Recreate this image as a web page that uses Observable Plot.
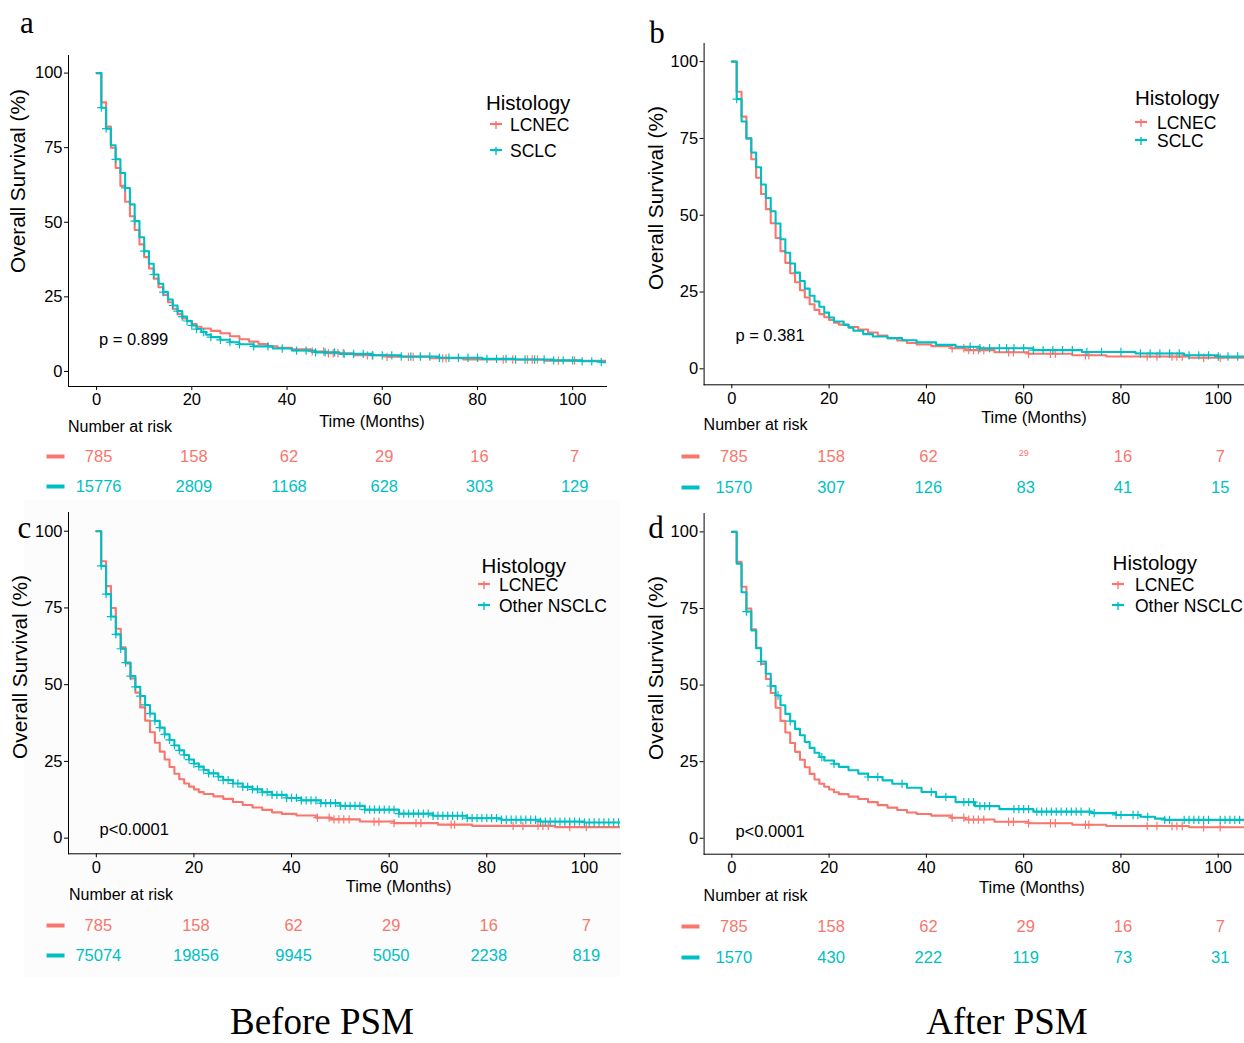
<!DOCTYPE html>
<html>
<head>
<meta charset="utf-8">
<script src="https://cdn.jsdelivr.net/npm/d3@7"></script>
<script src="https://cdn.jsdelivr.net/npm/@observablehq/plot@0.6"></script>
<style>
  html, body { margin: 0; padding: 0; background: #fff; }
  #fig { position: relative; width: 1244px; height: 1043px; overflow: hidden;
         font-family: "Liberation Sans", Arial, Helvetica, sans-serif; color: #000; }
  .abs { position: absolute; white-space: nowrap; line-height: 1; }
  .serif { font-family: "Liberation Serif", "Times New Roman", serif; }
  svg.plot { position: absolute; overflow: visible; }
</style>
</head>
<body>
<div id="fig"></div>
<script>
// ---------------- data ----------------
const groupLCNEC = "LCNEC";

// Kaplan–Meier estimates (months, % surviving)
const lcnecMonths = [0,1,2,3,4,5,6,7,8,9,10,11,12,13,14,15,16,17,18,19,20,21,22,24,26,28,30,32,34,36,38,41,45,48,54,61,70,77,94,108];
const lcnecSurv   = [100,90.2,82.1,75.0,68.2,62.2,56.9,52.0,47.4,42.6,38.3,34.5,31.1,28.2,25.6,23.2,21.0,19.2,17.8,16.8,15.9,15.0,14.4,13.6,12.8,11.8,10.8,10.0,9.2,8.4,7.9,7.4,6.7,6.1,5.4,4.9,4.4,4.0,3.6,3.6];
const lcnecCensor = [45.3,47.7,48.7,49.7,50.7,51.8,56.9,57.9,61,65.5,66.5,72.7,73.4,85.4,87.4,90.5,91.5,92.6,97,100.4];

const sclcBeforeMonths = [0,1,2,3,4,5,6,7,8,9,10,11,12,13,14,15,16,17,18,19,20,21,22,23,24,26,28,30,33,37,41,46,51,58,64,72,81,88,96,102,106,108];
const sclcBeforeSurv   = [100,88.4,81.4,75.8,71.1,66.5,61.5,56.0,50.4,45.0,40.3,36.1,32.5,29.4,26.6,24.1,22.1,20.2,18.4,16.9,15.4,14.2,13.2,12.3,11.5,10.6,9.8,9.1,8.4,7.7,7.0,6.4,5.9,5.4,5.0,4.6,4.2,4.0,3.7,3.4,3.1,3.1];
const sclcBeforeCensor = [1,2,4,6,8,10,12,14,16,17,18,19,20,21,22.5,24,26,28,30,33,36,39,42,44,46,48,50,52,54,56,58,60,62,64,66,68,70,72,74,76,78,80,82,84,86,88,90,92,94,96,98,100,102,104,106];

const sclcAfterMonths = [0,1,2,3,4,5,6,7,8,9,10,11,12,13,14,15,16,17,18,19,20,21,23,24,25,27,29,32,35,38,42,46,51,62,72,83,93,100,108];
const sclcAfterSurv   = [100,87.8,80.5,75.0,70.4,65.6,60.0,55.6,51.3,47.3,42.2,37.8,34.3,31.3,28.6,26.1,23.8,21.9,20.2,18.3,16.7,15.4,14.3,13.4,12.4,11.3,10.5,10.0,9.3,8.6,7.8,7.2,6.7,6.1,5.5,5.0,4.4,4.0,3.7];
const sclcAfterCensor = [1,49,51,53,55,56.5,58,60,62,64,66,68,70,73,76,80,84,86,88,90,92,94,96,98,100,102,104];

const nsclcBeforeMonths = [0,1,2,3,4,5,6,7,8,9,10,11,12,13,14,15,16,17,18,19,20,21,22,23,25,26,28,30,32,34,36,39,42,46,50,55,62,69,76,83,91,100,108];
const nsclcBeforeSurv   = [100,88.7,79.5,72.2,66.4,61.7,57.2,52.8,49.3,46.3,43.4,40.6,38.2,36.0,33.8,32.0,30.2,28.6,27.1,25.6,24.3,23.3,22.2,21.1,20.0,18.9,17.8,16.7,15.9,15.0,14.1,13.1,12.3,11.4,10.5,9.3,8.0,7.3,6.5,6.0,5.4,5.1,4.8];
const nsclcBeforeCensor = [1,2,3,4,5,6,7,8,9,10,11,12,13,14,15,16,17,18,19,20,21,22,23,24,25,26,27,28,29,30,31,32,33,34,35,36,37,38,39,40,41,42,43,44,45,46,47,48,49,50,51,52,53,54,55,56,57,58,59,60,61,62,63,64,65,66,67,68,69,70,71,72,73,74,75,76,77,78,79,80,81,82,83,84,85,86,87,88,89,90,91,92,93,94,95,96,97,98,99,100,101,102,103,104,105,106,107];

const nsclcAfterMonths = [0,1,2,3,4,5,6,7,8,9,10,11,12,13,14,15,16,17,18,19,21,22,24,26,28,31,33,36,39,42,46,50,55,62,74,79,84,87,89,108];
const nsclcAfterSurv   = [100,89.6,80.3,74.0,67.8,62.0,57.7,53.7,49.7,46.6,43.4,40.6,38.2,35.7,33.6,31.4,29.5,27.9,26.5,25.4,24.3,23.3,22.2,21.1,20.0,18.9,17.8,16.5,15.1,13.5,11.8,10.5,9.5,8.7,8.2,7.6,7.0,6.4,6.0,6.0];
const nsclcAfterCensor = [3,6,8,9.5,12,18.5,21,28,30,35,41,44,47.7,48.7,49.7,51,52,53,58,59,60,61,62.7,63.7,64.7,65.7,66.7,67.7,68.8,69.8,70.8,71.8,73.5,74.5,79,80,82.5,83.5,85.5,89,90,93,94,95,96,97,98,100.4,101.4,102.4,103.4,104.4];

// Number at risk
const riskMonths        = [0, 20, 40, 60, 80, 100];
const riskLCNEC         = [785, 158, 62, 29, 16, 7];
const riskSCLCBefore    = [15776, 2809, 1168, 628, 303, 129];
const riskSCLCAfter     = [1570, 307, 126, 83, 41, 15];
const riskNSCLCBefore   = [75074, 19856, 9945, 5050, 2238, 819];
const riskNSCLCAfter    = [1570, 430, 222, 119, 73, 31];

const xTicks = [0, 20, 40, 60, 80, 100];
const yTicks = [0, 25, 50, 75, 100];

// ---------------- drawing ----------------
const RED = "#F8766D", TEAL = "#00BFC4";
const FONT = '"Liberation Sans", Arial, Helvetica, sans-serif';
const fig = document.getElementById("fig");

function label(text, x, y, {size = 16.5, anchor = "start", rotate = false, color = "#000", serif = false, lh = 1} = {}) {
  const d = document.createElement("div");
  d.className = "abs" + (serif ? " serif" : "");
  d.textContent = text;
  d.style.left = x + "px";
  d.style.top = y + "px";
  d.style.fontSize = size + "px";
  d.style.lineHeight = lh;
  d.style.color = color;
  const tx = anchor === "middle" ? "-50%" : anchor === "end" ? "-100%" : "0";
  d.style.transform = `translate(${tx},-50%)` + (rotate ? " rotate(-90deg)" : "");
  fig.appendChild(d);
}

function place(svg, left, top) {
  svg.style.left = left + "px";
  svg.style.top = top + "px";
  fig.appendChild(svg);
}

function curveRows(group, months, surv) {
  return months.map((t, i) => ({group, t, s: surv[i]}));
}
function stepValue(months, surv, t) {
  let v = surv[0];
  for (let i = 0; i < months.length; i++) if (months[i] <= t) v = surv[i];
  return v;
}
function censorRows(group, months, surv, times) {
  return times.map(t => ({group, t, s: stepValue(months, surv, t)}));
}

// horizontal bar used as the colour key of each risk-table row
const barSymbol = {
  draw(ctx) { ctx.moveTo(-9, -2); ctx.lineTo(9, -2); ctx.lineTo(9, 2); ctx.lineTo(-9, 2); ctx.closePath(); }
};

function legendKey(x, y, color) {
  const ns = "http://www.w3.org/2000/svg";
  const s = document.createElementNS(ns, "svg");
  s.setAttribute("width", 16); s.setAttribute("height", 12);
  s.style.position = "absolute";
  s.style.left = (x - 8) + "px"; s.style.top = (y - 6) + "px";
  const h = document.createElementNS(ns, "line");
  h.setAttribute("x1", 2); h.setAttribute("x2", 14); h.setAttribute("y1", 4); h.setAttribute("y2", 4);
  h.setAttribute("stroke", color); h.setAttribute("stroke-width", 2.2);
  const v = document.createElementNS(ns, "line");
  v.setAttribute("x1", 8); v.setAttribute("x2", 8); v.setAttribute("y1", 1); v.setAttribute("y2", 9);
  v.setAttribute("stroke", color); v.setAttribute("stroke-width", 1.4);
  s.appendChild(h); s.appendChild(v);
  fig.appendChild(s);
}

const panels = [
  { letter: "a", other: "SCLC", months: sclcBeforeMonths, surv: sclcBeforeSurv, censor: sclcBeforeCensor,
    risk: riskSCLCBefore, p: "p = 0.899",
    svgLeft: 0, frame: {l: 68, t: 55, r: 606, b: 386}, xDomain: [-5.9, 107.1], yDomain: [-5.05, 105.9],
    pAt: [99, 339], yTitle: [18, 181], xTitle: [372, 421], riskTitle: [68, 427], rows: [456, 486], dash: 55,
    legend: {title: [486, 103], keyX: 496, textX: 510, rows: [126, 152]}, letterAt: [27, 22], smallCells: [] },
  { letter: "b", other: "SCLC", months: sclcAfterMonths, surv: sclcAfterSurv, censor: sclcAfterCensor,
    risk: riskSCLCAfter, p: "p = 0.381",
    svgLeft: 622, frame: {l: 703.6, t: 42.7, r: 1244, b: 384}, xDomain: [-5.7, 105.4], yDomain: [-5.2, 105.9],
    pAt: [735.4, 335], yTitle: [656, 198], xTitle: [1034, 417], riskTitle: [703.6, 425], rows: [456, 487], dash: 690,
    legend: {title: [1135, 98], keyX: 1141, textX: 1157, rows: [124, 142]}, letterAt: [657, 32], smallCells: [3] },
  { letter: "c", other: "Other NSCLC", months: nsclcBeforeMonths, surv: nsclcBeforeSurv, censor: nsclcBeforeCensor,
    risk: riskNSCLCBefore, p: "p<0.0001",
    svgLeft: 0, frame: {l: 68, t: 511.7, r: 620, b: 853}, xDomain: [-5.7, 107.4], yDomain: [-5.1, 106.1],
    pAt: [99.6, 829], yTitle: [19.8, 667], xTitle: [398.6, 885.7], riskTitle: [69, 895], rows: [925, 955.7], dash: 55,
    legend: {title: [481.6, 565.7], keyX: 484, textX: 499, rows: [586, 606.7]}, letterAt: [24.5, 527], smallCells: [] },
  { letter: "d", other: "Other NSCLC", months: nsclcAfterMonths, surv: nsclcAfterSurv, censor: nsclcAfterCensor,
    risk: riskNSCLCAfter, p: "p<0.0001",
    svgLeft: 622, frame: {l: 703.6, t: 513.3, r: 1244, b: 854}, xDomain: [-5.7, 105.4], yDomain: [-5.2, 106],
    pAt: [735.4, 830.7], yTitle: [655.8, 668], xTitle: [1031.9, 886.7], riskTitle: [703.6, 895.7], rows: [925.7, 956.7], dash: 690,
    legend: {title: [1112.6, 562.7], keyX: 1118, textX: 1135, rows: [586, 606.7]}, letterAt: [656, 527], smallCells: [] }
];

// faint panel background behind figure c
const bg = document.createElement("div");
Object.assign(bg.style, {position: "absolute", left: "24px", top: "500px", width: "596px", height: "477px", background: "#fcfcfc"});
fig.appendChild(bg);

for (const P of panels) {
  const groups = [groupLCNEC, P.other];
  const color = {domain: groups, range: [RED, TEAL]};
  const f = P.frame;
  const mTop = 10, mBottom = 32;

  const lines = [
    ...curveRows(groupLCNEC, lcnecMonths, lcnecSurv),
    ...curveRows(P.other, P.months, P.surv)
  ];
  const marks = [
    ...censorRows(groupLCNEC, lcnecMonths, lcnecSurv, lcnecCensor),
    ...censorRows(P.other, P.months, P.surv, P.censor)
  ];

  const km = Plot.plot({
    width: 620,
    height: (f.b - f.t) + mTop + mBottom,
    marginLeft: f.l - P.svgLeft,
    marginRight: 620 - (f.r - P.svgLeft),
    marginTop: mTop,
    marginBottom: mBottom,
    style: {fontFamily: FONT, fontSize: "16.5px", color: "#000", background: "transparent", overflow: "visible"},
    x: {domain: P.xDomain, ticks: xTicks, tickSize: 4, tickPadding: 3, line: true, label: null},
    y: {domain: P.yDomain, ticks: yTicks, tickSize: 4, tickPadding: 2, line: true, label: null},
    color,
    marks: [
      Plot.line(lines.filter(d => d.group === groupLCNEC), {x: "t", y: "s", stroke: "group", strokeWidth: 2.1, curve: "step-after", clip: true}),
      Plot.dot(marks.filter(d => d.group === groupLCNEC), {x: "t", y: "s", stroke: "group", symbol: "plus", r: 2.8, strokeWidth: 1.2, clip: true}),
      Plot.line(lines.filter(d => d.group === P.other), {x: "t", y: "s", stroke: "group", strokeWidth: 2.1, curve: "step-after", clip: true}),
      Plot.dot(marks.filter(d => d.group === P.other), {x: "t", y: "s", stroke: "group", symbol: "plus", r: 2.8, strokeWidth: 1.2, clip: true})
    ]
  });
  km.classList.add("plot");
  place(km, P.svgLeft, f.t - mTop);

  // risk table
  const riskRows = [];
  riskMonths.forEach((m, i) => {
    riskRows.push({group: groupLCNEC, month: m, n: riskLCNEC[i], small: P.smallCells.includes(i)});
    riskRows.push({group: P.other, month: m, n: P.risk[i], small: false});
  });

  const gap = P.rows[1] - P.rows[0];
  const risk = Plot.plot({
    width: 620,
    height: gap + 30,
    marginLeft: f.l - P.svgLeft,
    marginRight: 620 - (f.r - P.svgLeft),
    marginTop: 0, marginBottom: 0,
    style: {fontFamily: FONT, background: "transparent", overflow: "visible"},
    x: {domain: P.xDomain, axis: null},
    y: {type: "point", domain: groups, range: [15, 15 + gap], padding: 0, axis: null},
    color,
    marks: [
      Plot.text(riskRows.filter(r => !r.small), {x: "month", y: "group", text: d => String(d.n), fill: "group", fontSize: 16.5, textAnchor: "middle", dx: 2}),
      Plot.text(riskRows.filter(r => r.small), {x: "month", y: "group", text: d => String(d.n), fill: "group", fontSize: 9, textAnchor: "middle", dy: -3}),
      Plot.dot(groups, {x: () => P.xDomain[0], y: d => d, fill: d => d, stroke: "none", symbol: barSymbol, r: 4, dx: P.dash - f.l})
    ]
  });
  risk.classList.add("plot");
  place(risk, P.svgLeft, P.rows[0] - 15);

  // text
  label("Overall Survival (%)", P.yTitle[0], P.yTitle[1], {size: 20.8, anchor: "middle", rotate: true});
  label("Time (Months)", P.xTitle[0], P.xTitle[1], {size: 16.5, anchor: "middle"});
  label("Number at risk", P.riskTitle[0], P.riskTitle[1], {size: 16});
  label(P.p, P.pAt[0], P.pAt[1], {size: 16.5});
  label(P.letter, P.letterAt[0], P.letterAt[1], {size: 31, anchor: "middle", serif: true});

  // legend
  label("Histology", P.legend.title[0], P.legend.title[1], {size: 20.5});
  groups.forEach((g, i) => {
    legendKey(P.legend.keyX, P.legend.rows[i], i === 0 ? RED : TEAL);
    label(g, P.legend.textX, P.legend.rows[i], {size: 17.5});
  });
}

label("Before PSM", 322, 1022, {size: 37, anchor: "middle", serif: true, lh: 0.85});
label("After PSM", 1007, 1022, {size: 37, anchor: "middle", serif: true, lh: 0.85});
</script>
</body>
</html>
